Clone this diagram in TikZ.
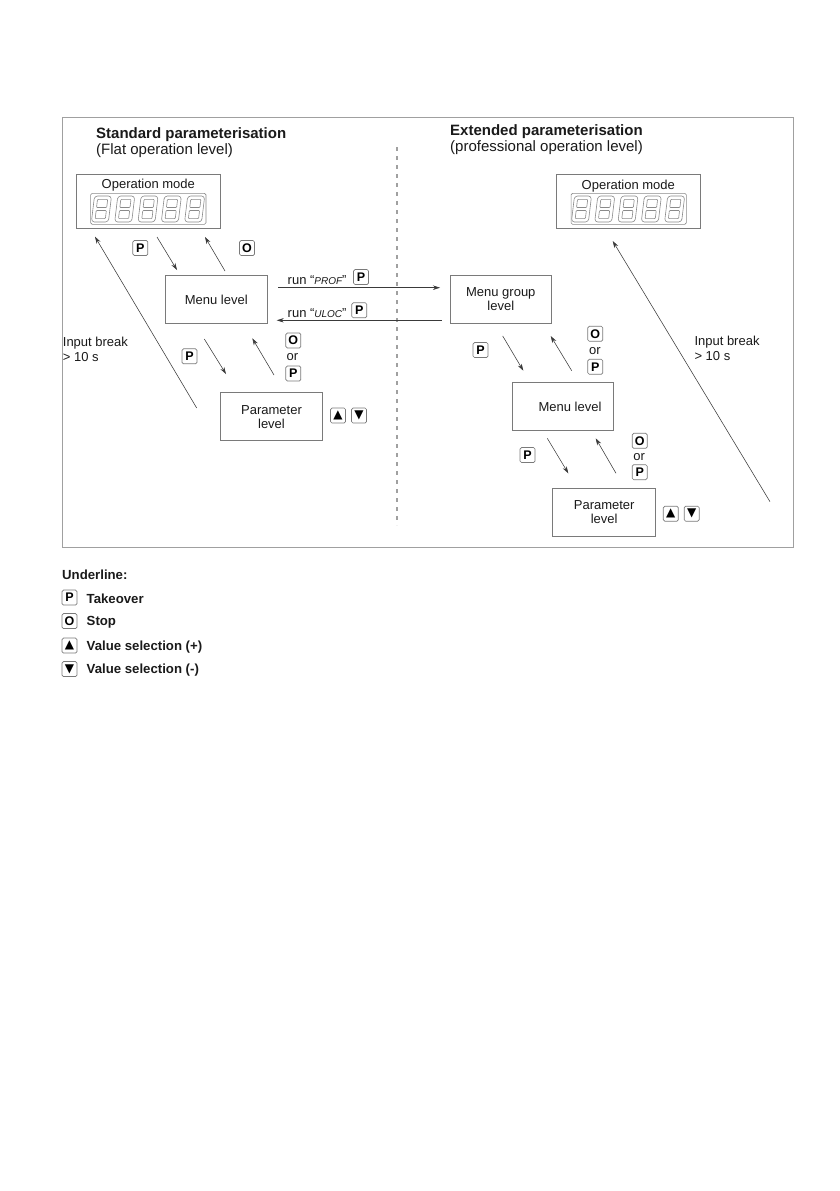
\documentclass[tikz,border=0pt]{standalone}
\usepackage{fontspec}
\setmainfont{Liberation Sans}
\newfontfamily\dejavu{DejaVu Sans}
\usetikzlibrary{arrows.meta,calc}
\definecolor{txt}{HTML}{1A1A1A}
\definecolor{boxgray}{HTML}{7A7A7A}
\definecolor{framegray}{HTML}{A0A0A0}
\definecolor{arrgray}{HTML}{3A3A3A}
\definecolor{seggray}{HTML}{8A8A8A}
\newcommand\segfnt{\itshape\fontsize{10}{10}\selectfont}
\newcommand\segeight[1]{%
  \begin{scope}[shift={#1}, xslant=0.12]
    \draw[seggray, line width=0.6pt, rounded corners=1pt]
      (2,0) -- (15,0) -- (17,2) -- (17,24) -- (15,26) -- (2,26) -- (0,24) -- (0,2) -- cycle;
    \draw[seggray, line width=0.6pt, rounded corners=0.8pt]
      (3.4,3.4) rectangle (13.6,11.5);
    \draw[seggray, line width=0.6pt, rounded corners=0.8pt]
      (3.4,14.5) rectangle (13.6,22.6);
  \end{scope}}
\newcommand\segdisplay[1]{%
  \foreach \k in {0,...,4} {\segeight{($#1+(\k*23.3,0)$)}}}
\tikzset{
  lbl/.style={font=\fontsize{13}{15}\selectfont, text=txt, inner sep=0pt},
  ttl/.style={font=\bfseries\fontsize{15}{17}\selectfont, text=txt, inner sep=0pt},
  sub/.style={font=\fontsize{15}{17}\selectfont, text=txt, inner sep=0pt},
  lvl/.style={draw=boxgray, line width=0.7pt, fill=white, inner sep=0pt, align=center,
              font=\fontsize{13}{14}\selectfont, text=txt},
  opbox/.style={draw=boxgray, line width=0.7pt, minimum width=143.3pt, minimum height=54pt, inner sep=0pt},
  disp/.style={draw=seggray, line width=0.6pt, rounded corners=1.5pt, minimum width=115.3pt, minimum height=31pt, inner sep=0pt},
  btn/.style={draw=boxgray, line width=0.7pt, rounded corners=1.5pt, minimum width=15pt, minimum height=15pt,
              inner sep=0pt, font=\bfseries\fontsize{12.5}{12.5}\selectfont, text=black},
  tri/.style={btn, font=\dejavu\fontsize{12}{12}\selectfont},
  conn/.style={draw=arrgray, line width=0.55pt, -{Stealth[length=7pt,width=4.4pt]}},
  leg/.style={font=\bfseries\fontsize{13.2}{14}\selectfont, text=txt, inner sep=0pt, anchor=west},
}
\begin{document}
\begin{tikzpicture}[x=1pt,y=-1pt]
\useasboundingbox (0,0) rectangle (839,1191);
\fill[white] (0,0) rectangle (839,1191);
% frame
\node[draw=framegray, line width=0.8pt, minimum width=731pt, minimum height=430pt, inner sep=0pt] (frame) at (427.5,332) {};
% divider
\coordinate (divtop) at (397,147);
\coordinate (divbot) at (397,525);
\draw[framegray, line width=1.2pt, dash pattern=on 4pt off 5pt] (divtop) -- (divbot);
% titles
\node[ttl, anchor=base west] (t1) at (96,138.3) {Standard parameterisation};
\node[sub, anchor=base west] (s1) at (96,154.3) {(Flat operation level)};
\node[ttl, anchor=base west] (t2) at (450,135.7) {Extended parameterisation};
\node[sub, anchor=base west] (s2) at (450,151.3) {(professional operation level)};

% operation mode boxes
\node[opbox] (opL) at (148.3,201.3) {};
\node[lbl, anchor=base] (opLt) at (148.3,188.6) {Operation mode};
\node[disp] (dispL) at (148.3,208.8) {};
\segdisplay{(94.5,196)}
\node[opbox] (opR) at (628.3,201.3) {};
\node[lbl, anchor=base] (opRt) at (628.3,189) {Operation mode};
\node[disp] (dispR) at (628.7,208.8) {};
\segdisplay{(574.5,196)}

% level boxes
\node[lvl, minimum width=102.7pt, minimum height=47.6pt] (menuL) at (216.3,299.5) {Menu level};
\node[lvl, minimum width=101.6pt, minimum height=48pt] (parL) at (271.5,416.7) {Parameter\\level};
\node[lvl, minimum width=101.7pt, minimum height=47.6pt] (grpR) at (500.8,299.5) {Menu group\\level};
\node[lvl, minimum width=101pt, minimum height=47.7pt] (menuR) at (562.8,406.2) {};
\node[lbl] (menuRt) at (570,406.7) {Menu level};
\node[lvl, minimum width=103pt, minimum height=48.4pt] (parR) at (604.2,512.5) {Parameter\\level};

% buttons left
\node[btn] (bP1) at (140.3,248) {P};
\node[btn] (bO1) at (247,248) {O};
\node[btn] (bP2) at (189.5,356.3) {P};
\node[btn] (bO2) at (293.3,340.5) {O};
\node[lbl] (or1) at (292.5,356.7) {or};
\node[btn] (bP3) at (293.3,373.5) {P};
\node[tri] (bU1) at (338,415.5) {▲};
\node[tri] (bD1) at (359,415.5) {▼};
\node[btn] (bP4) at (361,277) {P};
\node[btn] (bP5) at (359.3,310.3) {P};
\node[lbl, anchor=west] (runP) at (287.5,280.5) {run “{\segfnt PROF}”};
\node[lbl, anchor=west] (runU) at (287.5,313.5) {run “{\segfnt ULOC}”};
\node[lbl, anchor=west, align=left, font=\fontsize{13}{15}\selectfont] (ibL) at (62.7,349.2) {Input break\\> 10 s};

% buttons right
\node[btn] (bP6) at (480.5,350) {P};
\node[btn] (bO3) at (595.3,333.8) {O};
\node[lbl] (or2) at (594.8,350.7) {or};
\node[btn] (bP7) at (595.3,366.8) {P};
\node[btn] (bP8) at (527.5,455) {P};
\node[btn] (bO4) at (639.7,440.8) {O};
\node[lbl] (or3) at (639.2,456.7) {or};
\node[btn] (bP9) at (639.7,472.2) {P};
\node[tri] (bU2) at (670.8,513.7) {▲};
\node[tri] (bD2) at (691.7,513.7) {▼};
\node[lbl, anchor=west, align=left, font=\fontsize{13}{15}\selectfont] (ibR) at (694.3,348.8) {Input break\\> 10 s};

% connector end points
\coordinate (a1s) at (157,237);   \coordinate (a1e) at (177,270);
\coordinate (a2s) at (225,271);   \coordinate (a2e) at (205,237);
\coordinate (a3s) at (204.3,339); \coordinate (a3e) at (226,374);
\coordinate (a4s) at (274,375);   \coordinate (a4e) at (252.3,338.3);
\coordinate (a5s) at (196.7,408); \coordinate (a5e) at (95,236.7);
\coordinate (prs) at (278,287.7); \coordinate (pre) at (440,287.7);
\coordinate (uls) at (441.7,320.3); \coordinate (ule) at (276.7,320.3);
\coordinate (b1s) at (502.7,336); \coordinate (b1e) at (523.3,370.7);
\coordinate (b2s) at (571.7,370.7); \coordinate (b2e) at (550.7,336);
\coordinate (b3s) at (547.3,438.3); \coordinate (b3e) at (568.3,473.3);
\coordinate (b4s) at (616,473.3); \coordinate (b4e) at (595.7,438.3);
\coordinate (b5s) at (770,501.7); \coordinate (b5e) at (612.7,241);

\draw[conn] (a1s) -- (a1e);
\draw[conn] (a2s) -- (a2e);
\draw[conn] (a3s) -- (a3e);
\draw[conn] (a4s) -- (a4e);
\draw[conn] (a5s) -- (a5e);
\draw[conn] (prs) -- (pre);
\draw[conn] (uls) -- (ule);
\draw[conn] (b1s) -- (b1e);
\draw[conn] (b2s) -- (b2e);
\draw[conn] (b3s) -- (b3e);
\draw[conn] (b4s) -- (b4e);
\draw[conn] (b5s) -- (b5e);

% legend
\node[leg] (ul) at (62,575) {Underline:};
\node[btn] (lP) at (69.5,597.5) {P};
\node[btn] (lO) at (69.5,621) {O};
\node[tri] (lU) at (69.5,645.5) {▲};
\node[tri] (lD) at (69.5,669) {▼};
\node[leg] (lPt) at (86.5,598.3) {Takeover};
\node[leg] (lOt) at (86.5,622.3) {Stop};
\node[leg] (lUt) at (86.5,646.7) {Value selection (+)};
\node[leg] (lDt) at (86.5,670) {Value selection (-)};
\end{tikzpicture}
\end{document}
